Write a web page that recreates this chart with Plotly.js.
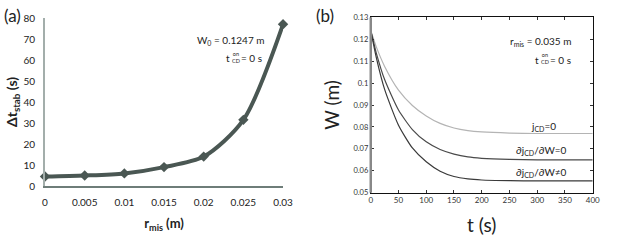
<!DOCTYPE html>
<html><head><meta charset="utf-8">
<script src="https://cdn.plot.ly/plotly-3.0.1.min.js"></script>
<style>html,body{margin:0;padding:0;background:#fff}#c{width:620px;height:242px}</style>
</head><body><div id="c"></div>
<script>
// Panel (a)
const rMis = [0, 0.005, 0.01, 0.015, 0.02, 0.025, 0.03];
const dtStab = [4.5, 5, 6, 9, 14, 31.5, 77];
const aTickVals = [0, 0.005, 0.01, 0.015, 0.02, 0.025, 0.03];
const aTickText = ['0', '0.005', '0.01', '0.015', '0.02', '0.025', '0.03'];
const aYTicks = [0, 10, 20, 30, 40, 50, 60, 70, 80];

// Panel (b)
const tSec = [0, 10, 25, 50, 75, 100, 125, 150, 175, 200, 250, 300, 350, 400];
const wJcd0 = [0.124, 0.1165, 0.1076, 0.0968, 0.0898, 0.0850, 0.0816, 0.0795, 0.0783, 0.0777, 0.0772, 0.0770, 0.0770, 0.0770];
const wDj0 = [0.124, 0.1137, 0.1016, 0.0877, 0.0788, 0.0732, 0.0697, 0.0676, 0.0663, 0.0657, 0.0652, 0.0650, 0.0650, 0.0650];
const wDjNe0 = [0.124, 0.1116, 0.0971, 0.0808, 0.0704, 0.0641, 0.0598, 0.0574, 0.0563, 0.0558, 0.0555, 0.0554, 0.0554, 0.0554];
const bXTicks = [0, 50, 100, 150, 200, 250, 300, 350, 400];
const bYTicks = [0.05, 0.06, 0.07, 0.08, 0.09, 0.1, 0.11, 0.12, 0.13];
const bYText = ['0.05', '0.06', '0.07', '0.08', '0.09', '0.1', '0.11', '0.12', '0.13'];

const F = 'Lato, "Open Sans", sans-serif';
const lineCol = '#4a5753';

const traces = [
  {x: rMis, y: dtStab, xaxis: 'x', yaxis: 'y', mode: 'lines+markers',
   line: {color: lineCol, width: 4, shape: 'spline', smoothing: 0.8},
   marker: {symbol: 'diamond', size: 8, color: lineCol}, cliponaxis: false},
  {x: tSec, y: wJcd0, xaxis: 'x2', yaxis: 'y2', mode: 'lines',
   line: {color: '#b4b4b4', width: 1.2, shape: 'spline', smoothing: 0.6}},
  {x: tSec, y: wDj0, xaxis: 'x2', yaxis: 'y2', mode: 'lines',
   line: {color: '#4a4a4a', width: 1.2, shape: 'spline', smoothing: 0.6}},
  {x: tSec, y: wDjNe0, xaxis: 'x2', yaxis: 'y2', mode: 'lines',
   line: {color: '#3a3a3a', width: 1.2, shape: 'spline', smoothing: 0.6}}
];

function txt(s, px, py, anchor, size) {
  return {text: s, xref: 'paper', yref: 'paper', x: px/620, y: 1-py/242, xanchor: anchor, yanchor: 'middle',
    showarrow: false, font: {size: size, family: F, color: '#222'}};
}
function stack(px, py) {
  return {text: 'on<br>CD', xref: 'paper', yref: 'paper', x: px/620, y: 1-py/242, xanchor: 'center', yanchor: 'middle',
    showarrow: false, font: {size: 5.5, family: F, color: '#222'}};
}

const layout = {
  width: 620, height: 242, margin: {l: 0, r: 0, t: 0, b: 0},
  showlegend: false, paper_bgcolor: '#fff', plot_bgcolor: '#fff',
  font: {family: F, color: '#222'},
  xaxis: {domain: [0.0726, 0.4565], range: [0, 0.03], tickvals: aTickVals, ticktext: aTickText,
    showgrid: false, zeroline: false, showline: true, linecolor: '#6e7d79', linewidth: 2,
    ticks: '', tickfont: {size: 10, family: F, color: '#222'}, ticklabelstandoff: 6,
    title: {text: '<b>r<sub>mis</sub> (m)</b>', font: {size: 13, family: F, color: '#222'}, standoff: 12}},
  yaxis: {domain: [0.2314, 0.9256], range: [0, 80], tickvals: aYTicks,
    showgrid: false, zeroline: false, showline: true, linecolor: '#a3aeab', linewidth: 2,
    ticks: '', tickfont: {size: 10, family: F, color: '#222'}, ticklabelstandoff: 6,
    title: {text: '<b>Δt<sub>stab</sub> (s)</b>', font: {size: 14, family: F, color: '#222'}, standoff: 2}},
  xaxis2: {domain: [0.598, 0.956], range: [0, 400], tickvals: bXTicks, anchor: 'y2',
    showgrid: false, zeroline: false, showline: true, mirror: 'ticks', linecolor: '#111', linewidth: 1,
    ticks: 'inside', ticklen: 3, tickcolor: '#333', tickfont: {size: 8, family: F, color: '#333'},
    title: {text: 't (s)', font: {size: 19, family: F, color: '#222'}, standoff: 14}},
  yaxis2: {domain: [0.2037, 0.9285], range: [0.05, 0.13], tickvals: bYTicks, ticktext: bYText, anchor: 'x2',
    showgrid: false, zeroline: false, showline: true, mirror: 'ticks', linecolor: '#111', linewidth: 1,
    ticks: 'inside', ticklen: 3, tickcolor: '#333', tickfont: {size: 7.5, family: F, color: '#333'},
    title: {text: 'W (m)', font: {size: 19, family: F, color: '#222'}, standoff: 8}},
  shapes: [
    {type: 'line', xref: 'x2 domain', yref: 'y2 domain', x0: 0, x1: 0, y0: 0, y1: 1,
     line: {color: '#888', width: 2.5}}
  ],
  annotations: [
    txt('(a)', 2, 15, 'left', 17),
    txt('(b)', 314, 15, 'left', 17),
    txt('W<sub>0</sub> = 0.1247 m', 267, 40, 'right', 10),
    txt('t', 232, 58, 'right', 10),
    stack(236, 57),
    txt('= 0 s', 264, 58, 'right', 10),
    txt('r<sub>mis</sub> = 0.035 m', 573, 41, 'right', 10),
    txt('t', 541, 60, 'right', 10),
    stack(545, 59),
    txt('= 0 s', 573, 60, 'right', 10),
    txt('j<sub>CD</sub>=0', 543, 126, 'center', 10),
    txt('∂j<sub>CD</sub>/∂W=0', 541, 150, 'center', 10),
    txt('∂j<sub>CD</sub>/∂W≠0', 541, 172, 'center', 10)
  ]
};

Plotly.newPlot('c', traces, layout, {displayModeBar: false, staticPlot: true});
</script></body></html>
